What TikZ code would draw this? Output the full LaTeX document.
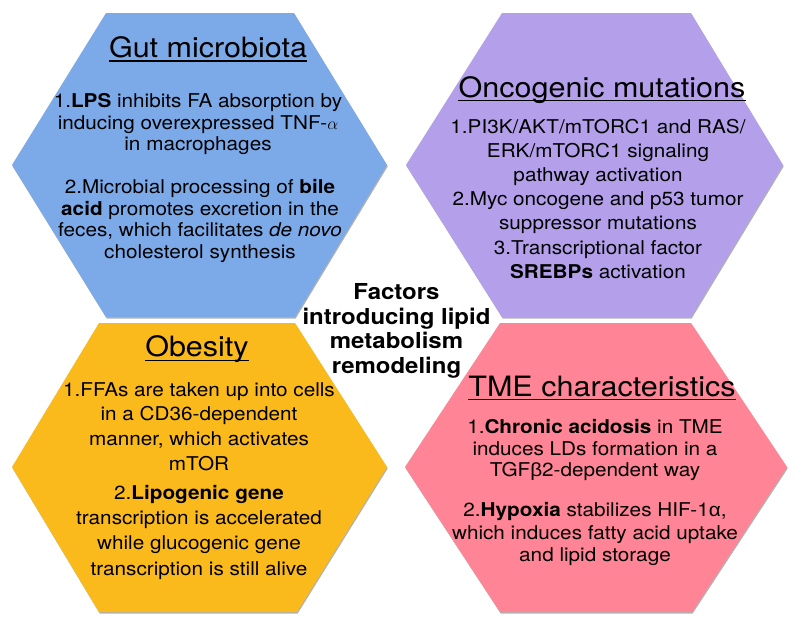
\documentclass[tikz,border=0pt]{standalone}
\usepackage{fontspec}
\setmainfont[FakeStretch=1.09]{TeX Gyre Heros}
\newfontfamily\grk[FakeStretch=1.09]{Liberation Sans}
\usetikzlibrary{shadows}
\definecolor{hexblue}{RGB}{124,170,232}
\definecolor{hexpurple}{RGB}{180,160,234}
\definecolor{hexorange}{RGB}{251,186,28}
\definecolor{hexpink}{RGB}{254,132,150}
\newcommand{\hexstrut}{\rule{0pt}{15pt}}
\newcommand{\ctrstrut}{\rule{0pt}{17pt}}
\begin{document}
\begin{tikzpicture}[x=1pt,y=1pt,
  hexagon/.style={draw=none, drop shadow={shadow xshift=0.7pt, shadow yshift=-1.5pt, opacity=0.3, fill=black}},
  hextitle/.style={anchor=base, inner sep=0pt, font=\fontsize{28}{32}\selectfont},
  uline/.style={line width=1.2pt, line cap=butt},
  hexbody/.style={anchor=north, inner sep=0pt, align=center},
  ctrtext/.style={anchor=north, inner sep=0pt, align=center, font=\fontsize{22}{24.5}\selectfont\bfseries}
]
\useasboundingbox (0,-627) rectangle (796,0);
\fill[white] (0,-627) rectangle (796,0);

% hexagons
\fill[hexblue, hexagon] (12,-165) -- (106,-13) -- (294,-13) -- (387,-165) -- (295,-317) -- (106,-317) -- cycle;
\fill[hexpurple, hexagon] (406,-165) -- (502,-13) -- (691,-13) -- (783,-165) -- (691,-317) -- (502,-317) -- cycle;
\fill[hexorange, hexagon] (12,-467) -- (99,-323) -- (295,-323) -- (387,-467) -- (297,-612) -- (99,-612) -- cycle;
\fill[hexpink, hexagon] (405,-467) -- (500,-323) -- (691,-323) -- (787,-467) -- (692,-612) -- (500,-612) -- cycle;

% Gut microbiota
\node[hextitle] (gut) at (208,-57) {Gut microbiota};
\draw[uline] ([yshift=-4pt]gut.base west) -- ([yshift=-4pt]gut.base east);
\node[hexbody, font=\fontsize{19}{21.5}\selectfont] (gutA) at (198,-92.7)
  {\hexstrut1.\textbf{LPS} inhibits FA absorption by\\inducing overexpressed TNF-$\alpha$\\in macrophages};
\node[hexbody, font=\fontsize{19}{21.7}\selectfont] (gutB) at (200,-178.3)
  {\hexstrut2.Microbial processing of \textbf{bile}\\\textbf{acid} promotes excretion in the\\feces, which facilitates \textit{de novo}\\cholesterol synthesis};

% Oncogenic mutations
\node[hextitle] (onc) at (602,-97) {Oncogenic mutations};
\draw[uline] ([yshift=-3.6pt]onc.base west) -- ([yshift=-3.6pt]onc.base east);
\node[hexbody, font=\fontsize{19}{24.1}\selectfont] (oncA) at (598,-118.3)
  {\hexstrut1.PI3K/AKT/mTORC1 and RAS/\\ERK/mTORC1 signaling\\pathway activation\\2.Myc oncogene and p53 tumor\\suppressor mutations\\3.Transcriptional factor\\\textbf{SREBPs} activation};

% Obesity
\node[hextitle] (obe) at (197,-356.7) {Obesity};
\draw[uline] ([yshift=-4pt]obe.base west) -- ([yshift=-4pt]obe.base east);
\node[hexbody, font=\fontsize{19}{24.7}\selectfont] (obeA) at (199,-381)
  {\hexstrut1.FFAs are taken up into cells\\in a CD36-dependent\\manner, which activates\\mTOR};
\node[hexbody, font=\fontsize{19}{25.2}\selectfont] (obeB) at (199,-484.3)
  {\hexstrut2.\textbf{Lipogenic gene}\\transcription is accelerated\\while glucogenic gene\\transcription is still alive};

% TME characteristics
\node[hextitle] (tme) at (602,-396) {TME characteristics};
\draw[uline] ([yshift=-3.2pt]tme.base west) -- ([yshift=-3.2pt]tme.base east);
\node[hexbody, font=\fontsize{19}{21.8}\selectfont] (tmeA) at (595,-418)
  {\hexstrut1.\textbf{Chronic acidosis} in TME\\induces LDs formation in a\\TGF{\grk β}2-dependent way};
\node[hexbody, font=\fontsize{19}{22.5}\selectfont] (tmeB) at (595,-501.7)
  {\hexstrut2.\textbf{Hypoxia} stabilizes HIF-1{\grk α},\\which induces fatty acid uptake\\and lipid storage};

% centre
\node[ctrtext] (ctr) at (396.5,-282.3)
  {\ctrstrut Factors\\introducing lipid\\metabolism\\remodeling};
\end{tikzpicture}
\end{document}
